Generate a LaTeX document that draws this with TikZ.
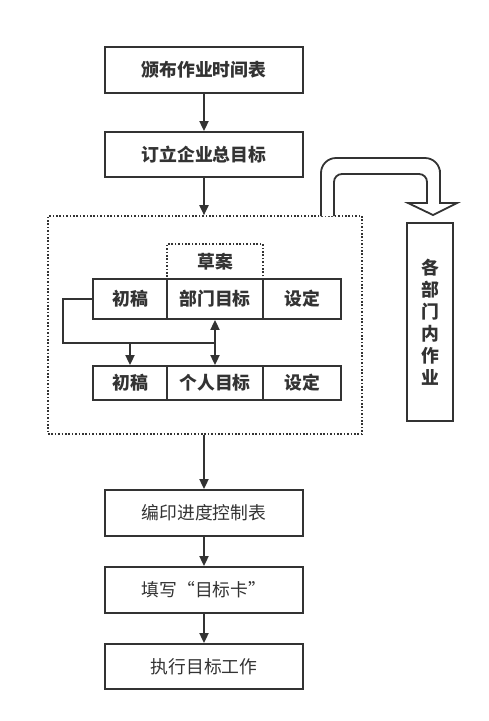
\documentclass[tikz,border=0pt]{standalone}
\usepackage{fontspec}
\setmainfont{Noto Sans CJK SC}
\usetikzlibrary{arrows.meta}
\definecolor{ink}{HTML}{333333}
\begin{document}
\begin{tikzpicture}[x=1pt,y=-1pt,
  box/.style={draw=ink,line width=1.8pt,fill=white,text=ink,inner sep=0pt,font=\fontsize{17.8}{20}\selectfont},
  bbox/.style={box,font=\bfseries\fontsize{17.8}{20}\selectfont},
  dotbox/.style={draw=ink,line width=1.6pt,dash pattern=on 1.6pt off 1.8pt,inner sep=0pt},
  arr/.style={draw=ink,line width=1.8pt,-{Triangle[length=10pt,width=9pt]}},
  darr/.style={draw=ink,line width=1.8pt,{Triangle[length=10pt,width=9pt]}-{Triangle[length=10pt,width=9pt]}},
  ln/.style={draw=ink,line width=1.8pt}]
\useasboundingbox (0,0) rectangle (488,721);
% main boxes
\node[bbox,minimum width=198pt,minimum height=46pt] (b1) at (204,70) {颁布作业时间表};
\node[bbox,minimum width=198pt,minimum height=45pt] (b2) at (204,154.5) {订立企业总目标};
% big dotted frame
\node[dotbox,minimum width=314pt,minimum height=218pt] (frame) at (205,325) {};
% hollow arrow
\draw[ink,line width=1.8pt,fill=white,line join=miter]
  (321,216) [rounded corners=15pt] -- (321,158) -- (440,158) -- (440,185) [sharp corners] -- (440,203)
  -- (457,203) -- (433,215) -- (408,203) -- (427,203)
  [rounded corners=8pt] -- (427,174) -- (334,174) -- (334,190) [sharp corners] -- (334,216);
% vertical box
\node[bbox,minimum width=46pt,minimum height=198pt,align=center,font=\bfseries\fontsize{17.8}{22}\selectfont] (v) at (430,322) {各\\部\\门\\内\\作\\业};
% draft
\node[dotbox,text=ink,font=\bfseries\fontsize{17.8}{20}\selectfont,minimum width=96pt,minimum height=35pt] (ca) at (215,261.5) {草案};
% row 1
\node[bbox,minimum width=74pt,minimum height=40pt] (r1a) at (130,299) {初稿};
\node[bbox,minimum width=96pt,minimum height=40pt] (r1b) at (215,299) {部门目标};
\node[bbox,minimum width=78pt,minimum height=40pt] (r1c) at (302,299) {设定};
% row 2
\node[bbox,minimum width=74pt,minimum height=34pt] (r2a) at (130,383) {初稿};
\node[bbox,minimum width=96pt,minimum height=34pt] (r2b) at (215,383) {个人目标};
\node[bbox,minimum width=78pt,minimum height=34pt] (r2c) at (302,383) {设定};
% bottom boxes
\node[box,minimum width=198pt,minimum height=46pt] (b3) at (204,513) {编印进度控制表};
\node[box,minimum width=198pt,minimum height=46pt] (b4) at (204,590) {填写“目标卡”};
\node[box,minimum width=198pt,minimum height=45pt] (b5) at (204,666.5) {执行目标工作};
% connectors
\draw[arr] (b1.south) -- (b2.north);
\draw[arr] (b2.south) -- (b2.south |- frame.north);
\draw[arr] (b3.north |- frame.south) -- (b3.north);
\draw[arr] (b3.south) -- (b4.north);
\draw[arr] (b4.south) -- (b5.north);
\coordinate (lp1) at (63,299);
\coordinate (lp2) at (63,343);
\coordinate (lp3) at (215,343);
\draw[ln] (r1a.west) -- (lp1) -- (lp2) -- (lp3);
\draw[arr] (r2a.north |- lp2) -- (r2a.north);
\draw[darr] (r1b.south) -- (r2b.north);
\end{tikzpicture}
\end{document}
